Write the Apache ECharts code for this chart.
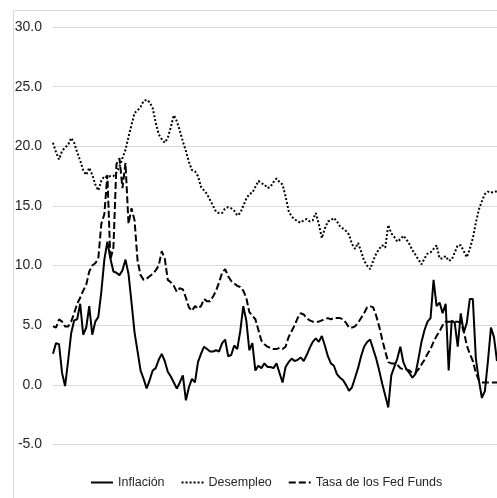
<!DOCTYPE html>
<html>
<head>
<meta charset="utf-8">
<script src="https://cdn.jsdelivr.net/npm/echarts@6/dist/echarts.min.js"></script>
<style>html,body{margin:0;padding:0;background:#fff}#c{width:497px;height:498px}</style>
</head>
<body>
<div id="c"></div>
<script>
// Periods (quarterly steps, labels hidden in the chart)
const categories = [];
(function(){ let y = 1975, m = 8; for (let i = 0; i < 148; i++) { categories.push(y + '-' + String(m).padStart(2,'0')); m += 3; if (m > 12) { m -= 12; y++; } } })();

const seriesNames = ['Inflación', 'Desempleo', 'Tasa de los Fed Funds'];

const inflacion = [
 2.6,3.5,3.4,1.0,-0.1,2.0,4.3,5.4,5.5,6.8,
 4.2,4.8,6.6,4.2,5.3,5.7,7.8,10.5,12.0,10.6,
 9.5,9.4,9.2,9.6,10.5,9.3,6.9,4.4,2.8,1.2,
 0.5,-0.3,0.4,1.2,1.4,2.1,2.6,2.0,1.1,0.7,
 0.2,-0.3,0.2,0.8,-1.3,-0.2,0.5,0.2,1.9,2.6,
 3.2,3.0,2.8,2.8,2.9,2.8,3.5,3.8,2.4,2.5,
 3.3,3.0,4.5,6.6,5.4,2.9,3.5,1.2,1.6,1.4,
 1.8,1.5,1.5,1.4,1.8,1.0,0.2,1.5,1.9,2.2,
 2.0,2.1,2.3,2.0,2.5,3.1,3.6,3.9,3.6,4.1,
 3.3,2.4,1.8,1.6,0.9,0.6,0.4,0.0,-0.5,-0.2,
 0.6,1.4,2.4,3.2,3.6,3.8,3.0,2.2,1.2,0.1,
 -0.9,-1.9,0.8,1.5,2.2,3.2,1.9,1.3,1.0,0.6,
 0.9,2.2,3.6,4.6,5.3,5.6,8.8,6.6,6.9,6.0,
 6.8,1.2,5.4,5.2,3.2,6.0,4.4,5.2,7.2,7.2,
 2.2,0.4,-1.1,-0.5,2.0,4.8,4.0,2.0
];

const desempleo = [
 20.3,19.5,18.9,19.6,19.9,20.1,20.7,20.3,19.5,18.8,
 18.0,17.6,18.2,17.6,16.8,16.3,17.1,17.5,17.4,17.5,
 17.5,17.8,18.3,19.0,19.7,20.8,21.8,22.8,23.0,23.3,
 23.8,23.9,23.7,23.2,22.0,21.0,20.6,20.3,20.7,21.6,
 22.6,22.1,21.3,20.4,19.6,18.7,18.0,17.9,17.5,16.6,
 16.3,16.0,15.5,15.0,14.5,14.4,14.4,14.8,14.9,14.8,
 14.6,14.2,14.4,15.0,15.6,16.0,16.1,16.6,17.1,16.9,
 16.8,16.5,16.6,17.0,17.3,17.0,16.8,15.8,14.6,14.1,
 13.9,13.7,13.6,13.8,13.9,13.7,13.8,14.4,13.5,12.3,
 13.1,13.7,13.8,14.0,13.7,13.3,13.1,12.9,12.6,11.8,
 11.4,11.9,11.2,10.4,10.0,9.7,10.4,11.0,11.4,11.7,
 11.5,13.4,12.7,12.4,12.0,12.2,12.5,12.2,11.8,11.3,
 10.9,10.5,10.1,10.6,11.0,11.1,11.4,11.7,10.6,10.6,
 10.8,10.4,10.5,11.1,11.7,11.7,11.2,10.7,11.4,12.3,
 13.6,14.7,15.4,16.0,16.2,16.1,16.2,16.2
];

const fedFunds = [
 4.9,4.8,5.5,5.3,4.9,4.9,5.3,6.0,6.8,7.3,
 7.9,8.4,9.5,10.0,10.2,10.6,13.5,14.3,17.6,10.5,
 11.5,18.5,19.0,16.5,18.6,13.5,14.8,13.8,10.4,9.2,
 8.8,8.9,9.1,9.3,9.6,10.0,11.2,10.6,8.8,8.6,
 8.3,7.8,8.1,8.0,7.3,6.5,6.2,6.6,6.4,6.6,
 7.2,7.0,7.0,7.4,7.9,8.6,9.4,9.7,9.1,8.7,
 8.5,8.3,8.2,7.9,7.3,6.1,5.8,5.5,4.6,3.7,
 3.4,3.2,3.1,3.0,3.0,3.1,3.0,3.2,4.0,4.5,
 5.0,5.6,6.0,5.9,5.6,5.4,5.3,5.3,5.3,5.4,
 5.5,5.6,5.5,5.6,5.6,5.6,5.5,5.2,4.8,4.8,
 4.9,5.2,5.6,6.0,6.5,6.6,6.5,5.8,4.9,3.8,
 2.8,1.9,1.8,1.8,1.7,1.4,1.3,1.3,1.2,1.0,
 1.0,1.3,1.7,2.1,2.6,3.0,3.6,4.1,4.5,5.0,
 5.3,5.3,5.3,5.3,5.3,5.2,4.5,3.3,2.6,2.0,
 1.0,0.4,0.2,0.2,0.2,0.2,0.2,0.2
];

const yTicks = { min: -5, max: 30, interval: 5 };

const chart = echarts.init(document.getElementById('c'), null, { renderer: 'canvas' });
const font = '"Liberation Sans", Arial, sans-serif';
chart.setOption({
  animation: false,
  backgroundColor: '#ffffff',
  graphic: [{
    type: 'rect', left: 11, top: 8, silent: true,
    shape: { width: 500, height: 500 },
    style: { fill: 'none', stroke: '#d9d9d9', lineWidth: 1 }
  }],
  grid: { left: 53, right: 0, top: 27, bottom: 53.5, containLabel: false },
  legend: {
    left: 90, top: 476, padding: 0,
    itemWidth: 22, itemHeight: 10, itemGap: 16,
    itemStyle: { opacity: 0, color: 'transparent', borderWidth: 0 },
    textStyle: { fontFamily: font, fontSize: 12.5, color: '#262626' },
    data: seriesNames
  },
  xAxis: {
    type: 'category', data: categories, boundaryGap: false,
    axisLine: { show: false }, axisTick: { show: false }, axisLabel: { show: false },
    splitLine: { show: false }
  },
  yAxis: {
    type: 'value', min: yTicks.min, max: yTicks.max, interval: yTicks.interval,
    axisLine: { show: false }, axisTick: { show: false },
    axisLabel: { formatter: v => v.toFixed(1), fontFamily: font, fontSize: 14, color: '#262626', margin: 11 },
    splitLine: { lineStyle: { color: '#d9d9d9', width: 1 } }
  },
  series: [
    { name: seriesNames[0], type: 'line', data: inflacion, symbol: 'none',
      lineStyle: { color: '#000', width: 2, type: 'solid' }, itemStyle: { color: '#000' } },
    { name: seriesNames[1], type: 'line', data: desempleo, symbol: 'none',
      lineStyle: { color: '#000', width: 2, type: [2, 2] }, itemStyle: { color: '#000' } },
    { name: seriesNames[2], type: 'line', data: fedFunds, symbol: 'none',
      lineStyle: { color: '#000', width: 2, type: [7, 3] }, itemStyle: { color: '#000' } }
  ]
});
</script>
</body>
</html>
